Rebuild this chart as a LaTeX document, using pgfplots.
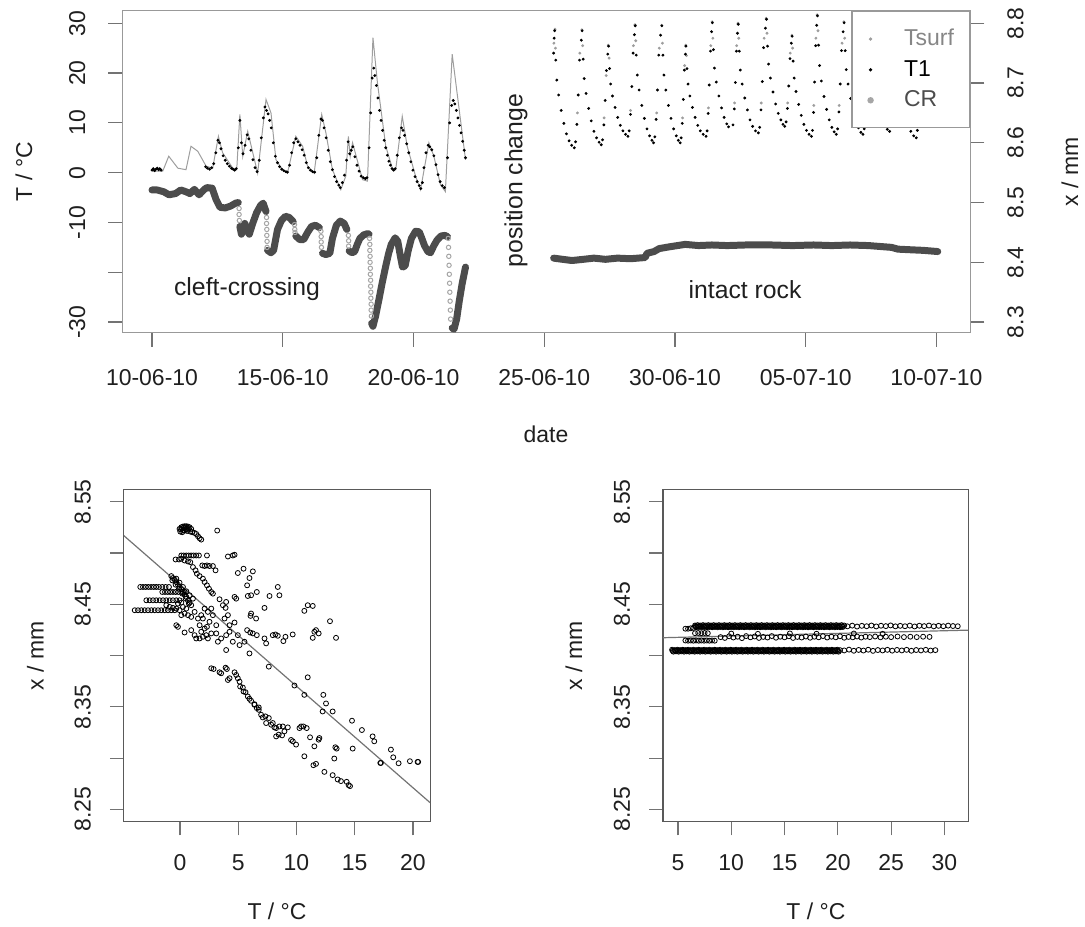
\documentclass[border=0pt]{standalone}
\usepackage{pgfplots}
\pgfplotsset{compat=1.18}
\usepackage{fontspec}
\setmainfont{Liberation Sans}

\definecolor{boxgray}{gray}{0.6}
\definecolor{boxdark}{gray}{0.35}
\definecolor{tickgray}{gray}{0.45}
\definecolor{txt}{gray}{0.12}
\definecolor{tsurf}{gray}{0.62}
\definecolor{crband}{gray}{0.3}
\definecolor{crdrop}{gray}{0.65}
\definecolor{fitline}{gray}{0.45}

\pgfplotsset{
  rplot/.style={
    scale only axis, anchor=south west,
    font=\fontsize{11.5}{13.8}\selectfont,
    axis line style={boxgray, line width=0.6pt},
    tick style={tickgray, line width=0.6pt},
    tick align=outside, major tick length=7pt,
    ticklabel style={text=txt},
    xtick pos=left, ytick pos=left,
  },
  scat/.style={only marks, mark=o, mark size=1.25pt, black, mark options={line width=0.4pt}},
}

\begin{document}
\begin{tikzpicture}[font=\fontsize{11.5}{13.8}\selectfont]
\path (0pt,0pt) rectangle (542.5pt,463.5pt);

% ---------------- top panel, temperatures (left axis) ----------------
\begin{axis}[rplot, at={(61.35pt,296.75pt)}, width=424.8pt, height=161.4pt,
  xmin=-1.13, xmax=31.3, ymin=-32.16, ymax=32.53,
  xticklabel style={yshift=-8pt},
  yticklabel style={xshift=-8pt, rotate=90, anchor=south},
  xtick={0,5,10,15,20,25,30},
  xticklabels={10-06-10,15-06-10,20-06-10,25-06-10,30-06-10,05-07-10,10-07-10},
  ytick={-30,-20,-10,0,10,20,30}, yticklabels={-30,,-10,0,10,20,30}]

% Tsurf, cleft-crossing period (drawn as a line)
\addplot[tsurf, line width=0.5pt] coordinates {
(0.03,0.3)(0.41,0.3)(0.64,3.3)(0.99,0.9)(1.3,0.6)(1.49,5.3)(1.75,4.3)(2.07,1.3)(2.32,0.9)
(2.54,7.3)(2.70,4.0)(3.09,0.9)(3.24,0.6)(3.36,11.7)(3.47,3.3)(3.66,8.3)(4.04,-0.1)(4.36,14.7)
(4.55,12.0)(4.74,2.6)(4.99,0.6)(5.18,-0.1)(5.50,7.3)(5.76,5.3)(5.95,1.3)(6.20,-0.1)(6.49,11.7)
(6.65,8.0)(6.90,0.6)(7.22,-3.4)(7.41,-0.7)(7.51,7.3)(7.58,3.3)(7.67,6.0)(8.05,-1.4)(8.24,-1.7)
(8.45,27.1)(8.62,18.1)(8.94,5.3)(9.19,0.9)(9.32,0.6)(9.57,11.3)(9.76,5.3)(10.08,-0.7)(10.27,-3.4)
(10.59,6.0)(10.78,3.3)(11.03,-2.4)(11.22,-3.8)(11.48,23.8)(11.73,13.4)(11.99,2.6)};

% Tsurf, intact-rock period (points)
\addplot[only marks, mark=*, mark size=0.5pt, tsurf] coordinates {
(15.37,26.0)(15.41,28.8)(15.43,25.0)(16.27,12.0)(16.36,24.0)(16.44,28.7)(16.47,25.5)
(17.29,11.0)(17.37,19.5)(17.45,25.6)(17.48,23.0)(18.30,12.5)(18.41,25.5)(18.47,29.7)(18.50,26.5)
(19.30,12.0)(19.40,25.0)(19.49,29.6)(19.52,26.0)(20.29,11.0)(20.37,21.5)(20.41,25.6)(20.44,23.5)
(21.28,13.0)(21.37,25.5)(21.42,30.3)(21.45,27.0)(22.28,14.0)(22.36,25.5)(22.41,30.0)(22.44,27.0)
(23.30,14.0)(23.41,27.0)(23.49,31.0)(23.52,28.0)(24.31,14.0)(24.41,24.0)(24.47,27.6)(24.50,25.0)
(25.31,13.5)(25.39,27.0)(25.44,31.7)(25.47,28.5)(26.28,13.5)(26.39,26.0)(26.46,30.3)(26.49,27.0)
(27.30,13.5)(27.40,25.0)(28.32,13.5)};

% T1
\addplot[only marks, mark=*, mark size=0.5pt, black] coordinates {
(0.00,0.5)(0.05,0.8)(0.10,0.4)(0.15,0.7)(0.20,0.9)(0.25,0.6)(0.30,0.8)(0.35,0.5)
(2.05,1.2)(2.12,0.9)(2.20,0.7)(2.28,1.0)(2.36,1.8)(2.44,4.0)(2.52,6.5)(2.58,6.0)(2.64,4.8)(2.72,3.4)
(2.80,2.5)(2.88,1.8)(2.96,1.3)(3.04,0.9)(3.10,0.7)(3.16,0.5)(3.22,0.8)
(3.30,5.0)(3.36,10.5)(3.42,6.0)(3.48,3.8)(3.56,5.5)(3.64,7.6)(3.70,6.8)(3.78,4.5)(3.86,2.6)(3.94,1.0)
(4.02,0.2)(4.10,2.5)(4.18,7.0)(4.26,11.0)(4.32,13.2)(4.38,12.5)(4.44,11.8)(4.50,10.5)(4.56,9.0)(4.64,6.0)
(4.72,3.3)(4.80,2.0)(4.88,1.2)(4.96,0.7)(5.04,0.4)(5.12,0.2)(5.18,0.1)
(5.26,1.5)(5.34,4.0)(5.42,6.0)(5.50,6.8)(5.58,6.2)(5.66,5.5)(5.74,4.6)(5.82,3.5)(5.90,2.0)(5.98,1.0)
(6.06,0.5)(6.14,0.2)(6.22,0.1)(6.30,3.0)(6.38,7.5)(6.46,10.8)(6.52,10.5)(6.58,9.0)(6.66,7.0)(6.74,4.5)
(6.82,2.2)(6.90,0.6)(6.98,-0.8)(7.06,-1.8)(7.14,-2.5)(7.20,-3.0)
(7.28,-2.0)(7.36,-0.5)(7.44,2.5)(7.50,6.2)(7.56,3.8)(7.62,4.5)(7.68,5.2)(7.76,3.2)(7.84,1.5)(7.92,0.3)
(8.00,-0.7)(8.08,-1.0)(8.16,-1.2)(8.22,-1.0)
(8.30,5.0)(8.36,12.0)(8.42,19.0)(8.48,21.0)(8.52,19.5)(8.58,17.5)(8.64,15.0)(8.70,12.5)(8.76,10.5)
(8.82,8.5)(8.88,6.5)(8.94,5.0)(9.00,3.5)(9.06,2.3)(9.12,1.5)(9.18,0.8)(9.24,0.5)(9.30,0.8)
(9.38,3.5)(9.46,7.0)(9.54,9.0)(9.60,8.5)(9.66,7.5)(9.74,5.8)(9.82,4.0)(9.90,2.2)(9.98,0.5)(10.06,-0.8)
(10.14,-1.8)(10.22,-2.6)(10.28,-3.2)(10.34,-2.0)(10.40,1.0)(10.48,4.0)(10.56,5.5)(10.62,5.2)(10.70,4.6)
(10.78,3.4)(10.86,1.6)(10.94,-0.4)(11.02,-1.8)(11.10,-2.6)(11.18,-3.0)
(11.30,3.0)(11.38,10.0)(11.46,13.5)(11.52,14.5)(11.58,13.8)(11.64,12.5)(11.70,11.0)(11.76,9.5)
(11.82,8.0)(11.88,6.3)(11.94,4.5)(11.99,3.0)
(15.36,24.0)(15.38,27.0)(15.40,28.5)(15.44,22.6)(15.48,18.6)(15.55,15.6)(15.65,12.5)(15.75,9.9)(15.85,7.8)(15.95,6.4)(16.05,5.5)(16.15,5.0)
(16.20,6.2)(16.25,9.7)(16.30,15.6)(16.35,22.6)(16.42,26.6)(16.45,28.5)(16.49,22.8)(16.53,18.9)(16.60,15.9)(16.70,12.9)(16.80,10.4)(16.90,8.3)(17.00,7.0)(17.10,6.1)(17.18,5.6)
(17.23,6.6)(17.28,9.6)(17.33,14.5)(17.38,20.5)(17.43,23.8)(17.46,25.4)(17.50,20.9)(17.54,17.8)(17.61,15.4)(17.71,13.1)(17.81,11.1)(17.91,9.5)(18.01,8.4)(18.11,7.7)(18.20,7.3)
(18.25,8.4)(18.30,11.7)(18.35,17.3)(18.40,24.0)(18.45,27.7)(18.48,29.5)(18.52,23.6)(18.56,19.6)(18.63,16.6)(18.73,13.5)(18.83,10.9)(18.93,8.8)(19.03,7.4)(19.12,6.5)(19.18,6.0)
(19.23,7.2)(19.28,10.7)(19.33,16.6)(19.38,23.6)(19.45,27.6)(19.50,29.5)(19.54,23.6)(19.58,19.6)(19.65,16.6)(19.75,13.5)(19.85,10.9)(19.95,8.8)(20.05,7.4)(20.13,6.5)(20.20,6.0)
(20.24,7.0)(20.28,9.9)(20.32,14.7)(20.36,20.6)(20.40,23.8)(20.42,25.4)(20.46,20.9)(20.50,17.8)(20.57,15.4)(20.67,13.1)(20.77,11.1)(20.87,9.5)(20.97,8.4)(21.08,7.7)(21.19,7.3)
(21.23,8.4)(21.27,11.9)(21.31,17.6)(21.36,24.4)(21.40,28.3)(21.43,30.1)(21.47,24.7)(21.51,21.0)(21.58,18.2)(21.68,15.4)(21.78,13.0)(21.88,11.1)(21.98,9.8)(22.05,9.2)
(22.22,9.6)(22.27,12.8)(22.31,18.1)(22.35,24.4)(22.39,28.0)(22.42,29.8)(22.46,24.4)(22.50,20.6)(22.57,17.8)(22.67,15.0)(22.77,12.6)(22.87,10.6)(22.97,9.3)(23.08,8.4)(23.19,8.0)
(23.24,9.1)(23.29,12.6)(23.34,18.3)(23.39,25.1)(23.46,29.0)(23.50,30.8)(23.54,25.4)(23.58,21.8)(23.65,19.0)(23.75,16.2)(23.85,13.8)(23.95,11.9)(24.05,10.6)(24.13,9.7)(24.20,9.3)
(24.25,10.2)(24.30,12.9)(24.35,17.4)(24.40,22.9)(24.45,26.0)(24.48,27.4)(24.52,22.4)(24.56,19.0)(24.63,16.3)(24.73,13.7)(24.83,11.5)(24.93,9.7)(25.03,8.5)(25.13,7.7)(25.22,7.3)
(25.26,8.5)(25.30,12.1)(25.34,18.2)(25.38,25.5)(25.42,29.6)(25.45,31.5)(25.49,25.6)(25.53,21.5)(25.60,18.4)(25.70,15.3)(25.80,12.7)(25.90,10.6)(26.00,9.1)(26.09,8.2)(26.17,7.7)
(26.22,8.8)(26.27,12.2)(26.32,17.8)(26.37,24.5)(26.43,28.3)(26.47,30.1)(26.51,24.5)(26.55,20.7)(26.62,17.8)(26.72,14.9)(26.82,12.4)(26.92,10.4)(27.02,9.0)(27.11,8.1)(27.19,7.7)
(27.24,8.8)(27.29,12.0)(27.34,17.3)(27.39,23.7)(27.44,27.3)(27.47,29.0)(27.51,23.8)(27.55,20.3)(27.62,17.6)(27.72,14.9)(27.82,12.6)(27.92,10.8)(28.02,9.5)(28.12,8.7)(28.21,8.3)
(28.26,9.3)(28.31,12.2)(28.36,17.2)(28.41,23.1)(28.45,26.4)(28.47,28.0)(28.51,22.8)(28.55,19.2)(28.62,16.5)(28.72,13.7)(28.82,11.4)(28.92,9.5)(29.02,8.3)(29.13,7.4)(29.23,7.0)(29.27,8.5)(29.30,10.5)};
\end{axis}

% ---------------- top panel, crack position (right axis) ----------------
\begin{axis}[rplot, at={(61.35pt,296.75pt)}, width=424.8pt, height=161.4pt,
  xmin=-1.13, xmax=31.3, ymin=8.282, ymax=8.821,
  xtick=\empty, ytick pos=right,
  ytick={8.3,8.4,8.5,8.6,8.7,8.8}, yticklabels={8.3,8.4,8.5,8.6,8.7,8.8},
  yticklabel style={xshift=8pt, rotate=90, anchor=north},
  unbounded coords=jump,
  legend style={at={(1,1)}, anchor=north east, draw=boxgray, fill=white, line width=0.6pt,
    inner xsep=8pt, inner ysep=9pt, row sep=5.8pt,
    nodes={inner sep=0pt},
    /tikz/every odd column/.append style={column sep=15.5pt}},
  legend cell align=left]

\addplot[crband, line width=3.5pt, line join=round, line cap=round, forget plot] coordinates {
(0.0,8.521)(0.2,8.521)(0.45,8.518)(0.65,8.513)(0.9,8.515)(1.1,8.521)(1.3,8.518)(1.45,8.515)(1.62,8.522)
(1.8,8.513)(2.0,8.522)(2.1,8.525)(2.3,8.524)(2.45,8.505)(2.6,8.492)(2.8,8.491)(3.0,8.494)(3.2,8.499)(3.3,8.500)
(3.31,nan)
(3.36,8.460)(3.42,8.447)(3.5,8.458)(3.55,8.465)(3.65,8.452)(3.72,8.447)(3.85,8.465)(4.0,8.483)(4.15,8.495)(4.25,8.499)(4.36,8.485)
(4.37,nan)
(4.42,8.420)(4.55,8.416)(4.65,8.420)(4.8,8.455)(4.95,8.470)(5.1,8.477)(5.25,8.475)(5.4,8.468)
(5.41,nan)
(5.5,8.444)(5.65,8.438)(5.8,8.438)(5.95,8.450)(6.1,8.460)(6.25,8.462)(6.4,8.458)
(6.41,nan)
(6.52,8.415)(6.65,8.413)(6.8,8.415)(6.9,8.440)(7.05,8.462)(7.2,8.469)(7.35,8.465)(7.45,8.455)
(7.46,nan)
(7.54,8.419)(7.65,8.416)(7.75,8.418)(7.85,8.430)(7.95,8.440)(8.1,8.446)(8.25,8.448)(8.3,8.447)
(8.31,nan)
(8.40,8.298)(8.45,8.293)(8.55,8.310)(8.68,8.338)(8.8,8.365)(8.94,8.394)(9.05,8.415)(9.15,8.430)(9.3,8.441)
(9.4,8.435)(9.5,8.410)(9.58,8.392)(9.68,8.394)(9.8,8.420)(9.92,8.440)(10.08,8.452)(10.22,8.451)(10.32,8.440)
(10.42,8.428)(10.55,8.418)(10.65,8.416)(10.78,8.428)(10.9,8.437)(11.05,8.444)(11.2,8.445)(11.3,8.443)
(11.31,nan)
(11.48,8.290)(11.55,8.288)(11.65,8.305)(11.75,8.335)(11.86,8.364)(11.99,8.392)
(12.0,nan)
(15.36,8.407)(15.7,8.405)(16.06,8.403)(16.5,8.405)(16.9,8.407)(17.34,8.405)(17.8,8.407)(18.3,8.406)
(18.86,8.408)(18.93,8.415)(19.2,8.418)(19.4,8.423)(19.8,8.426)(20.39,8.430)(20.9,8.428)(21.41,8.429)
(22.0,8.428)(22.7,8.429)(23.7,8.429)(24.5,8.428)(25.3,8.429)(26.0,8.428)(26.7,8.429)(27.4,8.428)
(28.28,8.425)(28.53,8.422)(29.0,8.421)(29.5,8.420)(30.05,8.418)};

\addplot[only marks, mark=o, mark size=1.1pt, crdrop, mark options={line width=0.5pt}, forget plot] coordinates {
(3.33,8.490)(3.33,8.480)(3.34,8.470)
(4.38,8.475)(4.38,8.465)(4.39,8.455)(4.39,8.445)(4.40,8.435)(4.40,8.425)
(5.45,8.463)(5.46,8.455)(5.47,8.450)
(6.46,8.452)(6.47,8.443)(6.47,8.434)(6.48,8.425)
(7.51,8.445)(7.52,8.436)(7.52,8.427)
(8.32,8.440)(8.33,8.430)(8.33,8.420)(8.34,8.410)(8.34,8.400)(8.35,8.390)(8.35,8.380)(8.36,8.370)
(8.36,8.360)(8.37,8.350)(8.37,8.340)(8.38,8.330)(8.38,8.320)(8.39,8.310)
(11.33,8.440)(11.34,8.425)(11.35,8.410)(11.36,8.395)(11.37,8.380)(11.38,8.365)(11.39,8.350)
(11.40,8.335)(11.41,8.320)(11.42,8.305)};

\addlegendimage{only marks, mark=*, mark size=0.5pt, tsurf}
\addlegendentry{\textcolor{tsurf!85!black}{Tsurf}}
\addlegendimage{only marks, mark=*, mark size=0.5pt, black}
\addlegendentry{\textcolor{black}{T1}}
\addlegendimage{only marks, mark=*, mark size=1.3pt, crdrop}
\addlegendentry{\textcolor{crband}{CR}}
\end{axis}

% ---------------- bottom left: cleft-crossing ----------------
\begin{axis}[rplot, at={(62pt,52pt)}, width=153.5pt, height=166.15pt,
  axis line style={boxdark, line width=0.6pt},
  xticklabel style={yshift=-6pt},
  yticklabel style={xshift=-6pt, rotate=90, anchor=south},
  xmin=-4.82, xmax=21.48, ymin=8.2383, ymax=8.5617,
  xtick={0,5,10,15,20}, xticklabels={0,5,10,15,20},
  ytick={8.25,8.30,8.35,8.40,8.45,8.50,8.55}, yticklabels={8.25,,8.35,,8.45,,8.55}]
\addplot[scat] coordinates {
(-0.03,8.5235)(0.12,8.5251)(0.26,8.5258)(0.40,8.5261)(0.55,8.5261)(0.69,8.5258)(0.83,8.5251)(0.97,8.5235)
(0.03,8.5209)(0.20,8.5203)(0.40,8.5219)(0.55,8.5235)(0.69,8.5229)(0.89,8.5209)(1.06,8.5203)(1.26,8.5196)
(1.40,8.5186)(1.55,8.5164)(1.69,8.5144)(1.83,8.5131)(3.20,8.5219)
(0.10,8.5230)(0.30,8.5245)(0.50,8.5248)(0.75,8.5240)(0.30,8.5220)(0.62,8.5215)
(0.12,8.4976)(0.32,8.4976)(0.55,8.4976)(0.75,8.4976)(0.97,8.4976)(1.17,8.4976)(1.40,8.4976)(1.63,8.4976)
(2.32,8.4976)(4.12,8.4966)(4.54,8.4976)(4.69,8.4983)
(-0.37,8.4937)(-0.08,8.4937)(0.12,8.4944)(0.40,8.4927)(0.69,8.4918)(0.89,8.4911)
(1.92,8.4879)(2.12,8.4873)(2.32,8.4879)(2.54,8.4873)(2.83,8.4873)(3.06,8.4831)
(4.97,8.4805)(5.46,8.4847)(6.26,8.4821)(5.97,8.4756)(5.77,8.4685)(5.83,8.4581)(6.11,8.4588)(6.60,8.4620)
(8.40,8.4669)(8.54,8.4588)(7.69,8.4581)(7.26,8.4465)(6.11,8.4410)(6.54,8.4361)(6.06,8.4387)
(1.12,8.4863)(1.34,8.4831)(1.46,8.4798)(1.69,8.4775)(1.97,8.4750)(2.12,8.4717)(2.32,8.4685)(2.49,8.4652)
(2.69,8.4620)(2.83,8.4604)
(-3.40,8.4669)(-3.17,8.4669)(-2.94,8.4669)(-2.71,8.4669)(-2.48,8.4669)(-2.25,8.4669)(-2.03,8.4669)
(-1.80,8.4669)(-1.51,8.4669)(-1.23,8.4669)(-0.94,8.4669)
(-1.51,8.4620)(-1.28,8.4620)(-1.05,8.4620)(-0.83,8.4620)(-0.60,8.4620)(-0.37,8.4620)(-0.14,8.4620)
(0.12,8.4620)(0.40,8.4620)
(-2.88,8.4539)(-2.60,8.4539)(-2.31,8.4539)(-2.03,8.4539)(-1.74,8.4539)(-1.45,8.4539)(-1.17,8.4539)
(-0.88,8.4539)(-0.60,8.4539)(-0.31,8.4539)(-0.03,8.4539)
(-3.88,8.4442)(-3.60,8.4442)(-3.31,8.4442)(-3.03,8.4442)(-2.74,8.4442)(-2.45,8.4442)(-2.17,8.4442)
(-1.88,8.4442)(-1.60,8.4442)(-1.31,8.4442)(-1.03,8.4442)(-0.74,8.4442)(-0.45,8.4442)
(-0.74,8.4775)(-0.60,8.4756)(-0.45,8.4740)(-0.31,8.4717)(-0.17,8.4691)(-0.03,8.4669)(0.12,8.4646)
(0.26,8.4620)(0.40,8.4594)(0.55,8.4572)(0.69,8.4539)(0.83,8.4517)(0.97,8.4491)(-0.65,8.4733)
(-0.37,8.4691)(-0.08,8.4652)(0.20,8.4604)(0.49,8.4555)(0.77,8.4507)(-0.31,8.4750)(-0.03,8.4711)
(0.26,8.4669)(0.55,8.4627)(0.83,8.4588)(1.12,8.4555)
(-1.17,8.4491)(-0.88,8.4474)(-0.60,8.4465)(-0.31,8.4458)(-0.03,8.4442)(0.26,8.4474)(0.55,8.4458)
(-0.17,8.4507)(0.12,8.4517)
(-0.31,8.4296)(-0.17,8.4280)(0.40,8.4225)(0.97,8.4248)(1.26,8.4199)(1.69,8.4167)(1.97,8.4183)(1.40,8.4167)
(1.83,8.4232)(2.12,8.4264)(2.32,8.4280)(2.54,8.4329)(1.69,8.4296)(1.97,8.4361)(2.40,8.4426)(2.69,8.4458)
(2.12,8.4458)(1.83,8.4394)(1.55,8.4361)(1.26,8.4426)(0.97,8.4377)(0.69,8.4394)(0.40,8.4410)(0.12,8.4394)
(2.26,8.4199)(2.69,8.4216)(2.40,8.4167)(2.83,8.4394)(3.12,8.4296)(3.12,8.4216)(3.26,8.4135)(3.54,8.4167)
(3.97,8.4054)(3.83,8.4361)(4.26,8.4296)(3.97,8.4199)(4.69,8.4322)(4.54,8.4135)(4.97,8.4199)(5.12,8.4102)
(5.54,8.4135)(5.97,8.4021)(3.40,8.4549)(3.69,8.4491)(3.97,8.4523)(4.83,8.4555)(4.69,8.4572)(3.92,8.4465)
(4.12,8.4394)(4.26,8.4232)
(5.77,8.4248)(6.03,8.4225)(6.26,8.4216)(6.60,8.4199)(7.26,8.4167)(7.40,8.4119)(7.97,8.4199)(8.20,8.4206)
(8.40,8.4193)(8.88,8.4141)(9.06,8.4183)(9.68,8.4206)
(10.68,8.4436)(10.97,8.4491)(11.40,8.4484)(12.88,8.4335)(13.40,8.4173)(11.40,8.4173)(11.54,8.4232)
(11.68,8.4248)(11.91,8.4216)(7.63,8.3892)
(2.69,8.3876)(2.89,8.3869)(3.40,8.3837)(3.54,8.3827)(3.92,8.3882)(4.03,8.3869)(4.12,8.3762)(4.26,8.3779)
(4.69,8.3837)(4.83,8.3811)(4.97,8.3779)(5.12,8.3746)(5.17,8.3698)(5.40,8.3688)(5.46,8.3650)(5.63,8.3643)
(5.83,8.3601)(5.97,8.3578)(6.11,8.3559)(6.40,8.3526)(6.60,8.3488)(6.77,8.3471)(6.97,8.3423)(7.11,8.3397)
(7.34,8.3407)(7.63,8.3391)(7.97,8.3342)(8.11,8.3300)(8.26,8.3293)(8.48,8.3229)(8.77,8.3222)(8.97,8.3261)
(9.26,8.3300)(9.54,8.3177)(9.69,8.3164)(9.97,8.3132)(10.26,8.3293)(10.40,8.3309)(10.60,8.3309)(10.88,8.3293)
(11.17,8.3203)(11.46,8.2931)(11.68,8.2944)(11.91,8.3180)(12.40,8.2866)(13.11,8.2834)(13.34,8.3106)
(13.45,8.3093)(13.54,8.2792)(13.82,8.2776)(14.31,8.2769)(14.48,8.2737)(14.60,8.2727)(6.40,8.3520)
(7.40,8.3342)(7.83,8.3326)(6.77,8.3494)(8.26,8.3212)(8.54,8.3309)(8.83,8.3309)
(10.68,8.3617)(12.31,8.3617)(12.54,8.3533)(12.25,8.3455)(13.11,8.3455)(9.83,8.3708)(10.97,8.3788)
(14.83,8.3093)(11.54,8.3115)(11.97,8.3196)(10.68,8.3018)(13.25,8.2996)
(14.77,8.3365)(15.62,8.3274)(16.54,8.3212)(16.68,8.3164)(17.20,8.2953)(17.25,8.2953)(18.11,8.3083)
(18.31,8.3008)(18.77,8.2950)(19.74,8.2970)(20.40,8.2963)(20.45,8.2963)};
\addplot[fitline, line width=0.6pt] coordinates {(-4.82,8.5170)(21.48,8.2565)};
\end{axis}

% ---------------- bottom right: intact rock ----------------
\begin{axis}[rplot, at={(332.15pt,52pt)}, width=153pt, height=166.15pt,
  axis line style={boxdark, line width=0.6pt},
  xticklabel style={yshift=-6pt},
  yticklabel style={xshift=-6pt, rotate=90, anchor=south},
  xmin=3.6, xmax=32.25, ymin=8.2383, ymax=8.5617,
  xtick={5,10,15,20,25,30}, xticklabels={5,10,15,20,25,30},
  ytick={8.25,8.30,8.35,8.40,8.45,8.50,8.55}, yticklabels={8.25,,8.35,,8.45,,8.55}]
\addplot[scat] coordinates {
(6.60,8.4293)(6.85,8.4297)(7.10,8.4293)(7.35,8.4297)(7.60,8.4293)(7.85,8.4297)(8.10,8.4293)(8.35,8.4297)
(8.60,8.4293)(8.85,8.4297)(9.10,8.4293)(9.35,8.4297)(9.60,8.4293)(9.85,8.4297)(10.10,8.4293)(10.35,8.4297)
(10.60,8.4293)(10.85,8.4297)(11.10,8.4293)(11.35,8.4297)(11.60,8.4293)(11.85,8.4297)(12.10,8.4293)
(12.35,8.4297)(12.60,8.4293)(12.85,8.4297)(13.10,8.4293)(13.35,8.4297)(13.60,8.4293)(13.85,8.4297)
(14.10,8.4293)(14.35,8.4297)(14.60,8.4293)(14.85,8.4297)(15.10,8.4293)(15.35,8.4297)(15.60,8.4293)
(15.85,8.4297)(16.10,8.4293)(16.35,8.4297)(16.60,8.4293)(16.85,8.4297)(17.10,8.4293)(17.35,8.4297)
(17.60,8.4293)(17.85,8.4297)(18.10,8.4293)(18.35,8.4297)(18.60,8.4293)(18.85,8.4297)(19.10,8.4293)
(19.35,8.4297)(19.60,8.4293)(19.85,8.4297)(20.10,8.4293)(20.35,8.4297)(20.60,8.4293)
(5.70,8.4262)(5.95,8.4262)(6.20,8.4266)(6.45,8.4270)
(6.72,8.4276)(6.97,8.4279)(7.22,8.4276)(7.47,8.4279)(7.72,8.4276)(7.97,8.4279)(8.22,8.4276)(8.47,8.4279)
(8.72,8.4276)(8.97,8.4279)(9.22,8.4276)(9.47,8.4279)(9.72,8.4276)(9.97,8.4279)(10.22,8.4276)(10.47,8.4279)
(10.72,8.4276)(10.97,8.4279)(11.22,8.4276)(11.47,8.4279)(11.72,8.4276)(11.97,8.4279)(12.22,8.4276)
(12.47,8.4279)(12.72,8.4276)(12.97,8.4279)(13.22,8.4276)(13.47,8.4279)(13.72,8.4276)(13.97,8.4279)
(14.22,8.4276)(14.47,8.4279)(14.72,8.4276)(14.97,8.4279)(15.22,8.4276)(15.47,8.4279)(15.72,8.4276)
(15.97,8.4279)(16.22,8.4276)(16.47,8.4279)(16.72,8.4276)(16.97,8.4279)(17.22,8.4276)(17.47,8.4279)
(17.72,8.4276)(17.97,8.4279)(18.22,8.4276)(18.47,8.4279)(18.72,8.4276)(18.97,8.4279)(19.22,8.4276)
(19.47,8.4279)(19.72,8.4276)(19.97,8.4279)(20.22,8.4276)(20.47,8.4279)
(20.9,8.4285)(21.35,8.4292)(21.8,8.4283)(22.25,8.4290)(22.7,8.4286)(23.15,8.4293)(23.6,8.4284)(24.05,8.4291)
(24.5,8.4287)(24.95,8.4294)(25.4,8.4285)(25.85,8.4290)(26.3,8.4286)(26.75,8.4292)(27.2,8.4284)(27.65,8.4291)
(28.1,8.4287)(28.55,8.4293)(29.0,8.4285)(29.45,8.4290)(29.9,8.4286)(30.35,8.4292)(30.8,8.4288)(31.25,8.4286)
(5.70,8.4147)(5.95,8.4145)(6.20,8.4147)(6.45,8.4145)(6.70,8.4147)(6.95,8.4145)(7.20,8.4147)(7.45,8.4145)
(7.70,8.4147)(7.95,8.4145)(8.20,8.4147)(8.45,8.4145)
(6.6,8.4218)(6.9,8.4220)(7.2,8.4218)(7.5,8.4220)(7.8,8.4218)
(9.0,8.4180)(9.4,8.4172)(9.8,8.4188)(10.2,8.4176)(10.6,8.4184)(11.0,8.4170)(11.4,8.4190)(11.8,8.4178)
(12.2,8.4186)(12.6,8.4172)(13.0,8.4182)(13.4,8.4176)(13.8,8.4190)(14.2,8.4174)(14.6,8.4184)(15.0,8.4178)
(15.4,8.4188)(15.8,8.4172)(16.2,8.4182)(16.6,8.4176)(17.0,8.4186)(17.4,8.4174)(17.8,8.4184)(18.2,8.4178)
(18.6,8.4190)(19.0,8.4176)(19.4,8.4184)(19.8,8.4178)(20.2,8.4188)(20.6,8.4174)(21.0,8.4182)(21.4,8.4178)
(21.8,8.4186)(22.2,8.4176)(22.6,8.4184)(23.0,8.4180)(23.5,8.4186)(24.0,8.4178)(24.5,8.4184)(25.0,8.4180)
(25.6,8.4186)(26.2,8.4180)(26.8,8.4184)(27.4,8.4180)(28.0,8.4184)(28.6,8.4182)
(10.0,8.4215)(12.5,8.4212)(15.5,8.4216)(18.0,8.4213)(21.5,8.4215)(24.2,8.4212)
(4.45,8.4057)(4.70,8.4053)(4.95,8.4057)(5.20,8.4053)(5.45,8.4057)(5.70,8.4053)(5.95,8.4057)(6.20,8.4053)
(6.45,8.4057)(6.70,8.4053)(6.95,8.4057)(7.20,8.4053)(7.45,8.4057)(7.70,8.4053)(7.95,8.4057)(8.20,8.4053)
(8.45,8.4057)(8.70,8.4053)(8.95,8.4057)(9.20,8.4053)(9.45,8.4057)(9.70,8.4053)(9.95,8.4057)(10.20,8.4053)
(10.45,8.4057)(10.70,8.4053)(10.95,8.4057)(11.20,8.4053)(11.45,8.4057)(11.70,8.4053)(11.95,8.4057)
(12.20,8.4053)(12.45,8.4057)(12.70,8.4053)(12.95,8.4057)(13.20,8.4053)(13.45,8.4057)(13.70,8.4053)
(13.95,8.4057)(14.20,8.4053)(14.45,8.4057)(14.70,8.4053)(14.95,8.4057)(15.20,8.4053)(15.45,8.4057)
(15.70,8.4053)(15.95,8.4057)(16.20,8.4053)(16.45,8.4057)(16.70,8.4053)(16.95,8.4057)(17.20,8.4053)
(17.45,8.4057)(17.70,8.4053)(17.95,8.4057)(18.20,8.4053)(18.45,8.4057)(18.70,8.4053)(18.95,8.4057)
(19.20,8.4053)(19.45,8.4057)(19.70,8.4053)(19.95,8.4057)(20.20,8.4053)
(4.57,8.4038)(4.82,8.4041)(5.07,8.4038)(5.32,8.4041)(5.57,8.4038)(5.82,8.4041)(6.07,8.4038)(6.32,8.4041)
(6.57,8.4038)(6.82,8.4041)(7.07,8.4038)(7.32,8.4041)(7.57,8.4038)(7.82,8.4041)(8.07,8.4038)(8.32,8.4041)
(8.57,8.4038)(8.82,8.4041)(9.07,8.4038)(9.32,8.4041)(9.57,8.4038)(9.82,8.4041)(10.07,8.4038)(10.32,8.4041)
(10.57,8.4038)(10.82,8.4041)(11.07,8.4038)(11.32,8.4041)(11.57,8.4038)(11.82,8.4041)(12.07,8.4038)
(12.32,8.4041)(12.57,8.4038)(12.82,8.4041)(13.07,8.4038)(13.32,8.4041)(13.57,8.4038)(13.82,8.4041)
(14.07,8.4038)(14.32,8.4041)(14.57,8.4038)(14.82,8.4041)(15.07,8.4038)(15.32,8.4041)(15.57,8.4038)
(15.82,8.4041)(16.07,8.4038)(16.32,8.4041)(16.57,8.4038)(16.82,8.4041)(17.07,8.4038)(17.32,8.4041)
(17.57,8.4038)(17.82,8.4041)(18.07,8.4038)(18.32,8.4041)(18.57,8.4038)(18.82,8.4041)(19.07,8.4038)
(19.32,8.4041)(19.57,8.4038)(19.82,8.4041)(20.07,8.4038)
(20.6,8.4050)(21.05,8.4058)(21.5,8.4047)(21.95,8.4055)(22.4,8.4049)(22.85,8.4057)(23.3,8.4046)(23.75,8.4054)
(24.2,8.4050)(24.65,8.4056)(25.1,8.4048)(25.55,8.4055)(26.0,8.4050)(26.45,8.4056)(26.9,8.4047)(27.35,8.4054)
(27.8,8.4050)(28.25,8.4056)(28.7,8.4049)(29.15,8.4053)};
% extra rows in the densest parts of bands 1 and 3
\addplot[scat, mark options={line width=0.5pt}] coordinates {
(6.66,8.4286)(6.91,8.4286)(7.16,8.4286)(7.41,8.4286)(7.66,8.4286)(7.91,8.4286)(8.16,8.4286)(8.41,8.4286)
(8.66,8.4286)(8.91,8.4286)(9.16,8.4286)(9.41,8.4286)(9.66,8.4286)(9.91,8.4286)(10.16,8.4286)(10.41,8.4286)
(10.66,8.4286)(10.91,8.4286)(11.16,8.4286)(11.41,8.4286)(11.66,8.4286)(11.91,8.4286)(12.16,8.4286)
(12.41,8.4286)(12.66,8.4286)(12.91,8.4286)(13.16,8.4286)(13.41,8.4286)(13.66,8.4286)(13.91,8.4286)
(14.16,8.4286)(14.41,8.4286)(14.66,8.4286)(14.91,8.4286)(15.16,8.4286)(15.41,8.4286)(15.66,8.4286)
(15.91,8.4286)(16.16,8.4286)(16.41,8.4286)(16.66,8.4286)(16.91,8.4286)(17.16,8.4286)(17.41,8.4286)
(17.66,8.4286)(17.91,8.4286)(18.16,8.4286)(18.41,8.4286)(18.66,8.4286)(18.91,8.4286)(19.16,8.4286)
(19.41,8.4286)(19.66,8.4286)(19.91,8.4286)(20.16,8.4286)(20.41,8.4286)
(4.51,8.4047)(4.76,8.4047)(5.01,8.4047)(5.26,8.4047)(5.51,8.4047)(5.76,8.4047)(6.01,8.4047)(6.26,8.4047)
(6.51,8.4047)(6.76,8.4047)(7.01,8.4047)(7.26,8.4047)(7.51,8.4047)(7.76,8.4047)(8.01,8.4047)(8.26,8.4047)
(8.51,8.4047)(8.76,8.4047)(9.01,8.4047)(9.26,8.4047)(9.51,8.4047)(9.76,8.4047)(10.01,8.4047)(10.26,8.4047)
(10.51,8.4047)(10.76,8.4047)(11.01,8.4047)(11.26,8.4047)(11.51,8.4047)(11.76,8.4047)(12.01,8.4047)
(12.26,8.4047)(12.51,8.4047)(12.76,8.4047)(13.01,8.4047)(13.26,8.4047)(13.51,8.4047)(13.76,8.4047)
(14.01,8.4047)(14.26,8.4047)(14.51,8.4047)(14.76,8.4047)(15.01,8.4047)(15.26,8.4047)(15.51,8.4047)
(15.76,8.4047)(16.01,8.4047)(16.26,8.4047)(16.51,8.4047)(16.76,8.4047)(17.01,8.4047)(17.26,8.4047)
(17.51,8.4047)(17.76,8.4047)(18.01,8.4047)(18.26,8.4047)(18.51,8.4047)(18.76,8.4047)(19.01,8.4047)
(19.26,8.4047)(19.51,8.4047)(19.76,8.4047)(20.01,8.4047)};
\addplot[fitline, line width=0.6pt] coordinates {(3.6,8.4174)(32.25,8.4248)};
\end{axis}

% ---------------- titles and annotations ----------------
\node[rotate=90, text=txt] at (12pt,377.5pt) {T / °C};
\node[rotate=90, text=txt] at (536pt,377.5pt) {x / mm};
\node[text=txt] at (273.5pt,246pt) {date};
\node[rotate=90, text=txt, font=\fontsize{12.4}{14.8}\selectfont] at (258.5pt,373pt) {position change};
\node[text=txt, font=\fontsize{12.4}{14.8}\selectfont] at (123.75pt,318.5pt) {cleft-crossing};
\node[text=txt, font=\fontsize{12.4}{14.8}\selectfont] at (373.25pt,318.5pt) {intact rock};
\node[text=txt] at (138.75pt,7pt) {T / °C};
\node[text=txt] at (408.75pt,7pt) {T / °C};
\node[rotate=90, text=txt] at (17.8pt,135pt) {x / mm};
\node[rotate=90, text=txt] at (287.5pt,135pt) {x / mm};
\end{tikzpicture}
\end{document}
